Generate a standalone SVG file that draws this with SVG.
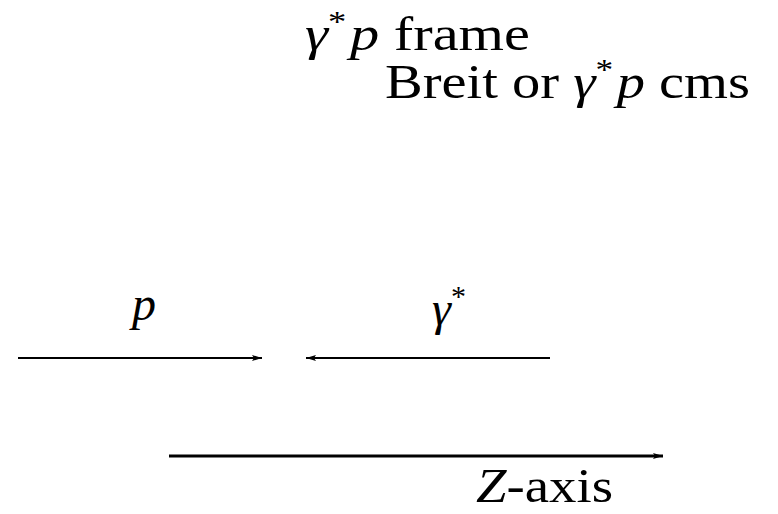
<svg xmlns="http://www.w3.org/2000/svg" width="778" height="514" viewBox="0 0 778 514">
<style>
text{font-family:"Liberation Serif","DejaVu Serif",serif;fill:#000;font-size:48px}
.i{font-style:italic}
.s{font-size:30px;font-style:normal}
.ln{stroke:#000;fill:none}
</style>
<defs>
<marker id="ah" viewBox="0 0 10 6" refX="10" refY="3" markerWidth="10" markerHeight="6" markerUnits="userSpaceOnUse" orient="auto">
<path d="M0,0 L10,3 L0,6 L2,3 Z" fill="#000"/>
</marker>
</defs>
<rect width="778" height="514" fill="#fff"/>
<g id="title">
<text x="305" y="50" textLength="225" lengthAdjust="spacingAndGlyphs"><tspan class="i">γ</tspan><tspan class="s" dy="-19">*</tspan><tspan class="i" dx="3" dy="19">p</tspan> frame</text>
<text x="385" y="98" textLength="365" lengthAdjust="spacingAndGlyphs">Breit or <tspan class="i">γ</tspan><tspan class="s" dy="-19">*</tspan><tspan class="i" dx="3" dy="19">p</tspan> cms</text>
</g>
<g id="proton">
<text x="132" y="320" class="i">p</text>
</g>
<g id="photon">
<text x="432" y="325" class="i">γ<tspan class="s" dy="-19">*</tspan></text>
</g>
<g id="zaxis">
<text x="476" y="502" textLength="137" lengthAdjust="spacingAndGlyphs"><tspan class="i">Z</tspan>-axis</text>
</g>
<g id="connectors">
<line class="ln" x1="18" y1="358" x2="262" y2="358" stroke-width="2" marker-end="url(#ah)"/>
<line class="ln" x1="550" y1="358" x2="306" y2="358" stroke-width="2" marker-end="url(#ah)"/>
<line class="ln" x1="169" y1="456" x2="663" y2="456" stroke-width="3" marker-end="url(#ah)"/>
</g>
</svg>
